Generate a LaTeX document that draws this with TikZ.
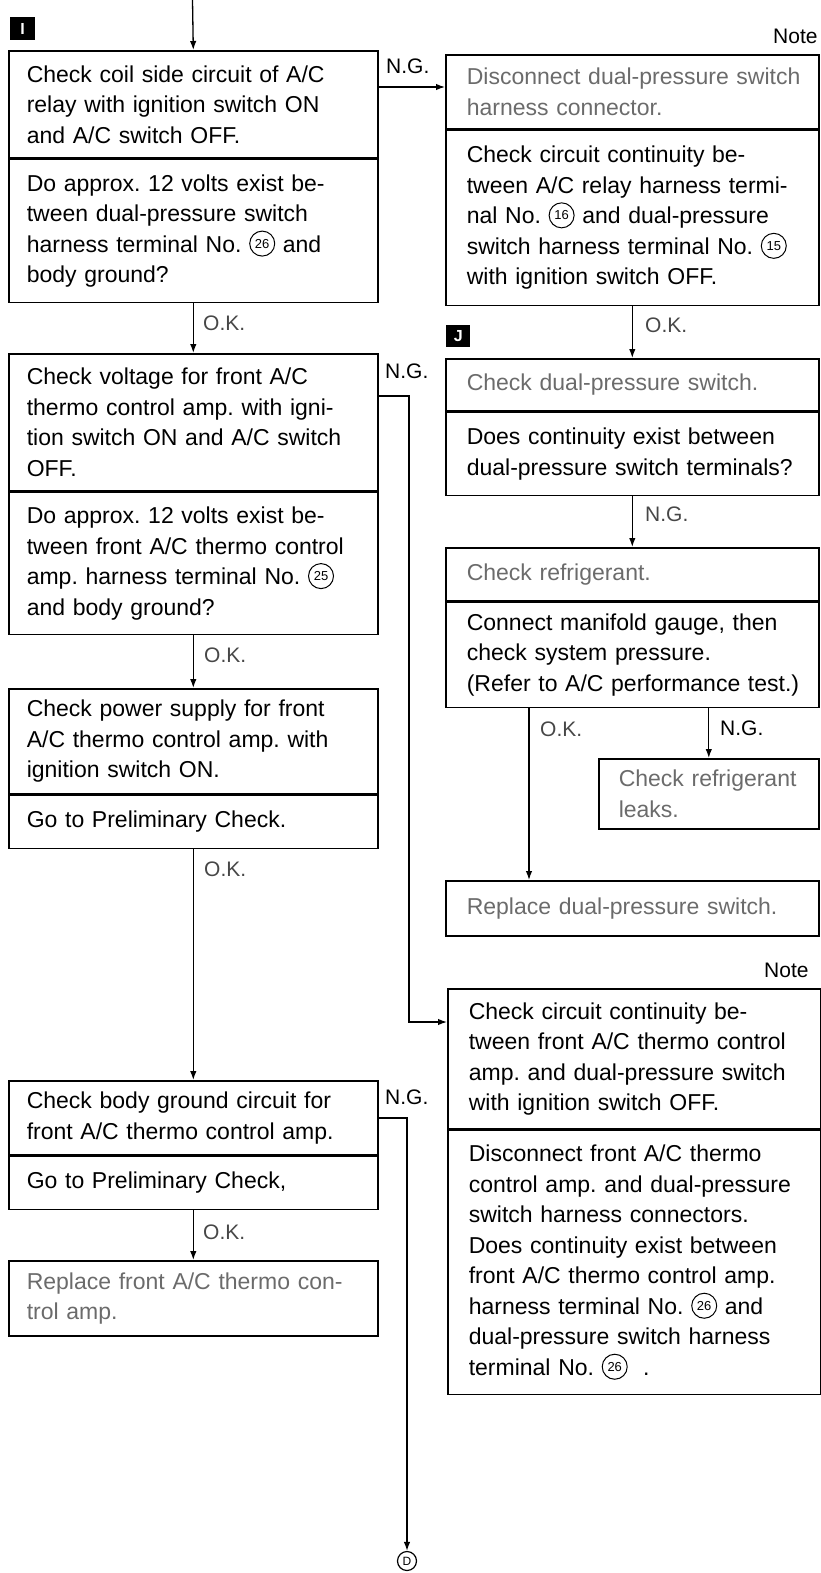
\documentclass[tikz,border=0pt]{standalone}
\usepackage{fontspec}
\setmainfont{Liberation Sans}
\usetikzlibrary{arrows.meta,calc,positioning}
\colorlet{faded}{black!58}
\colorlet{lblok}{black!72}
\frenchspacing
\newcommand\cnum[1]{\tikz[baseline={([yshift=-8.5pt]cn.center)}]\node[draw,circle,line width=1pt,inner sep=0pt,minimum size=25pt,text width={},font=\fontsize{13}{13}\selectfont](cn){#1};}
\tikzset{
  part/.style={draw,line width=1.6pt,anchor=north west,align=left,inner ysep=3pt,
    font=\fontsize{23}{30.5}\selectfont\frenchspacing},
  lpart/.style={part,inner xsep=18pt,text width=333pt},
  rpart/.style={part,inner xsep=21pt,text width=331pt},
  arr/.style={-{Latex[length=9pt,width=6.5pt]},line width=1.3pt},
  lbl/.style={font=\fontsize{21}{21}\selectfont,inner sep=0pt},
  oklbl/.style={lbl,text=lblok,anchor=west},
  nglbl/.style={lbl,anchor=west},
  tag/.style={fill=black,text=white,inner sep=0pt,minimum width=25pt,minimum height=23pt,font=\bfseries\fontsize{16}{16}\selectfont}
}
\begin{document}
\begin{tikzpicture}[x=1pt,y=-1pt]
\useasboundingbox (0,0) rectangle (820,1573);
% ---------- left column ----------
\node[lpart,minimum height=107pt] (L1a) at (8,50) {Check coil side circuit of A/C\\relay with ignition switch ON\\and A/C switch OFF.};
\node[lpart,minimum height=143pt] (L1b) at (L1a.south west) {Do approx. 12 volts exist be-\\tween dual-pressure switch\\harness terminal No. \cnum{26} and\\body ground?};
\node[lpart,minimum height=137pt] (L2a) at (8,353) {Check voltage for front A/C\\thermo control amp. with igni-\\tion switch ON and A/C switch\\OFF.};
\node[lpart,minimum height=142pt] (L2b) at (L2a.south west) {Do approx. 12 volts exist be-\\tween front A/C thermo control\\amp. harness terminal No. \cnum{25}\\and body ground?};
\node[lpart,minimum height=105pt] (L3a) at (8,688) {Check power supply for front\\A/C thermo control amp. with\\ignition switch ON.};
\node[lpart,minimum height=53pt] (L3b) at (L3a.south west) {Go to Preliminary Check.};
\node[lpart,minimum height=74pt] (L4a) at (8,1080) {Check body ground circuit for\\front A/C thermo control amp.};
\node[lpart,minimum height=53pt] (L4b) at (L4a.south west) {Go to Preliminary Check,};
\node[lpart,minimum height=75pt,text=faded] (L5) at (8,1260) {Replace front A/C thermo con-\\trol amp.};
% ---------- right column ----------
\node[rpart,minimum height=74pt,text=faded] (R1a) at (445,54) {\mbox{Disconnect dual-pressure switch}\\harness connector.};
\node[rpart,minimum height=175pt] (R1b) at (R1a.south west) {Check circuit continuity be-\\tween A/C relay harness termi-\\nal No. \cnum{16} and dual-pressure\\switch harness terminal No. \cnum{15}\\with ignition switch OFF.};
\node[rpart,minimum height=52pt,text=faded] (R2a) at (445,358) {Check dual-pressure switch.};
\node[rpart,minimum height=83pt] (R2b) at (R2a.south west) {Does continuity exist between\\dual-pressure switch terminals?};
\node[rpart,minimum height=53pt,text=faded] (R3a) at (445,547) {Check refrigerant.};
\node[rpart,minimum height=105pt] (R3b) at (R3a.south west) {Connect manifold gauge, then\\check system pressure.\\\mbox{(Refer to A/C performance test.)}};
\node[part,inner xsep=20pt,text width=180pt,minimum height=70pt,text=faded] (Leak) at (598,758) {Check refrigerant\\leaks.};
\node[rpart,minimum height=55pt,text=faded] (Rep) at (445,880) {Replace dual-pressure switch.};
\node[rpart,minimum height=140pt] (R4a) at (447,988) {Check circuit continuity be-\\tween front A/C thermo control\\amp. and dual-pressure switch\\with ignition switch OFF.};
\node[rpart,minimum height=264pt] (R4b) at (R4a.south west) {Disconnect front A/C thermo\\control amp. and dual-pressure\\switch harness connectors.\\Does continuity exist between\\front A/C thermo control amp.\\harness terminal No. \cnum{26} and\\dual-pressure switch harness\\terminal No. \cnum{26}\ \ .};
% ---------- tags and notes ----------
\node[tag,anchor=north west] (tagI) at (10,17) {I};
\node[tag,anchor=north west,minimum width=24pt,minimum height=22pt] (tagJ) at (446,325) {J};
\node[lbl,anchor=west] (note1) at (773,36) {Note};
\node[lbl,anchor=west] (note2) at (764,970) {Note};
\node[draw,circle,line width=1.2pt,minimum size=19pt,inner sep=0pt,font=\fontsize{12}{12}\selectfont] (D) at (407,1561) {D};
\coordinate (top) at (192.5,0);
% ---------- connectors ----------
\draw[arr] (top) -- (L1a.north);
\draw[arr] ($(L1a.north east)+(0,37)$) -- ($(R1a.north west)+(0,33)$);
\draw[arr] (L1b.south) -- (L2a.north);
\draw[arr] ($(L2a.north east)+(0,43)$) -| ($(R4a.north west)+(-38,34)$) -- ($(R4a.north west)+(0,34)$);
\draw[arr] (L2b.south) -- (L3a.north);
\draw[arr] (L3b.south) -- (L4a.north);
\draw[arr] ($(L4a.north east)+(0,38)$) -| (D.north);
\draw[arr] (L4b.south) -- (L5.north);
\draw[arr] (R1b.south) -- (R2a.north);
\draw[arr] (R2b.south) -- (R3a.north);
\draw[arr] ($(R3b.south west)+(84,0)$) -- ($(Rep.north west)+(84,0)$);
\draw[arr] (Leak.north |- R3b.south) -- (Leak.north);
% ---------- labels ----------
\node[nglbl] at (386,66) {N.G.};
\node[oklbl] at (203,323) {O.K.};
\node[nglbl] at (385,371) {N.G.};
\node[oklbl] at (204,655) {O.K.};
\node[oklbl] at (204,869) {O.K.};
\node[nglbl] at (385,1097) {N.G.};
\node[oklbl] at (203,1232) {O.K.};
\node[oklbl] at (645,325) {O.K.};
\node[oklbl] at (645,514) {N.G.};
\node[oklbl] at (540,729) {O.K.};
\node[nglbl] at (720,728) {N.G.};
\end{tikzpicture}
\end{document}
